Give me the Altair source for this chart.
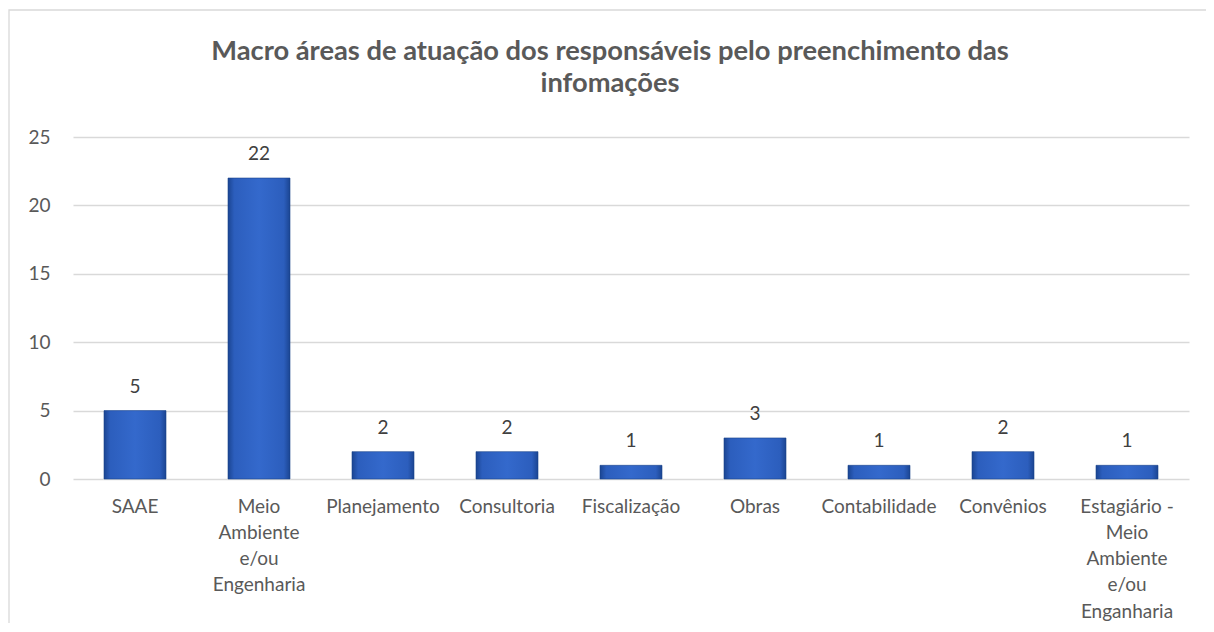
import altair as alt
import pandas as pd

categories = [
    "SAAE",
    "Meio Ambiente e/ou Engenharia",
    "Planejamento",
    "Consultoria",
    "Fiscalização",
    "Obras",
    "Contabilidade",
    "Convênios",
    "Estagiário - Meio Ambiente e/ou Enganharia",
]
wrapped_labels = [
    "SAAE",
    "Meio\nAmbiente\ne/ou\nEngenharia",
    "Planejamento",
    "Consultoria",
    "Fiscalização",
    "Obras",
    "Contabilidade",
    "Convênios",
    "Estagiário -\nMeio\nAmbiente\ne/ou\nEnganharia",
]
values = [5, 22, 2, 2, 1, 3, 1, 2, 1]
y_ticks = [0, 5, 10, 15, 20, 25]

df = pd.DataFrame({"cat": wrapped_labels, "full": categories, "value": values})

FONT = "Lato"
GREY = "#595959"

grad = alt.Gradient(
    gradient="linear",
    x1=0, y1=0, x2=1, y2=0,
    stops=[
        alt.GradientStop(offset=0, color="#1b4592"),
        alt.GradientStop(offset=0.1, color="#2c5ebd"),
        alt.GradientStop(offset=0.5, color="#3469cc"),
        alt.GradientStop(offset=0.9, color="#2c5ebd"),
        alt.GradientStop(offset=1, color="#1b4592"),
    ],
)

x = alt.X(
    "cat:N",
    sort=wrapped_labels,
    title=None,
    scale=alt.Scale(paddingInner=0.5, paddingOuter=0.25),
    axis=alt.Axis(
        labelExpr="split(datum.label, '\\n')",
        labelAngle=0,
        labelFont=FONT,
        labelFontSize=19,
        labelColor=GREY,
        labelPadding=18,
        labelLineHeight=26.3,
        labelBaseline="top",
        ticks=False,
        domain=False,
        grid=False,
        labelLimit=0,
    ),
)

base = alt.Chart(df)

frame = alt.Chart(pd.DataFrame({"f": [0]})).mark_rect(
    fill=None, stroke="#d9d9d9", strokeWidth=1.3
).encode(
    x=alt.value(-64), x2=alt.value(1300), y=alt.value(-127), y2=alt.value(700)
)

bars = base.mark_bar(color=grad, stroke="#1a438c", strokeWidth=0.6).encode(
    x=x,
    y=alt.Y(
        "value:Q",
        title=None,
        scale=alt.Scale(domain=[0, 25], nice=False),
        axis=alt.Axis(
            values=y_ticks,
            labelFont=FONT,
            labelFontSize=19,
            labelColor=GREY,
            labelPadding=23,
            ticks=False,
            domain=False,
            gridColor="#d9d9d9",
            gridWidth=1.3,
        ),
    ),
)

text = base.mark_text(
    font=FONT, fontSize=19, color="#404040", baseline="alphabetic", dy=-18
).encode(x=x, y="value:Q", text="value:Q")

chart = (
    alt.layer(frame, bars, text)
    .properties(
        width=1116,
        height=342,
        view=alt.ViewBackground(stroke="transparent", strokeWidth=0),
        title=alt.TitleParams(
            text=[
                "Macro áreas de atuação dos responsáveis pelo preenchimento das",
                "infomações",
            ],
            font=FONT,
            fontSize=27.3,
            fontWeight="bold",
            color=GREY,
            lineHeight=32,
            offset=-88,
            dx=-21,
            anchor="middle",
            frame="group",
        ),
        autosize=alt.AutoSizeParams(type="none"),
        padding={"left": 65, "top": 129, "right": 17, "bottom": 144},
    )
    .configure_view(stroke="transparent", strokeWidth=0)
    .configure_axis(domain=False)
    .configure(background="white")
)

chart.save("out.html", embed_options={"renderer": "svg", "actions": False})
